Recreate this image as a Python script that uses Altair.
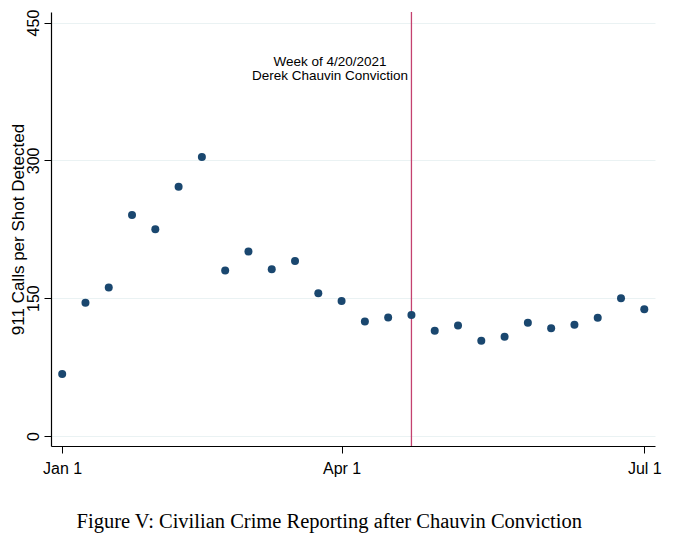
import altair as alt
import pandas as pd

# Weekly observations (week index 0 = week of Jan 1, 2021)
weeks = list(range(26))
calls = [67.4, 144.9, 161.5, 240.5, 225.0, 271.3, 303.6, 180.2, 200.7, 181.5,
         190.5, 155.4, 147.0, 124.6, 128.9, 131.8, 114.6, 120.2, 103.6, 107.9,
         123.2, 117.4, 121.0, 128.6, 150.0, 138.0]

tick_weeks = [0, 12, 25]
tick_labels = ["Jan 1", "Apr 1", "Jul 1"]
y_ticks = [0, 150, 300, 450]

event_week = [15]
ann_lines = ["Week of 4/20/2021", "Derek Chauvin Conviction"]
ann_x = [11.5, 11.5]
ann_y = [407.0, 391.5]

caption = ["Figure V: Civilian Crime Reporting after Chauvin Conviction"]

pts = pd.DataFrame({"week": weeks, "calls": calls})
ev = pd.DataFrame({"week": event_week})
ann = pd.DataFrame({"week": ann_x, "calls": ann_y, "txt": ann_lines})
cap = pd.DataFrame({"caption": caption})

label_expr = " : ".join(
    f"datum.value == {w} ? '{l}'" for w, l in zip(tick_weeks[:-1], tick_labels[:-1])
) + f" : '{tick_labels[-1]}'"

FONT = "Liberation Sans"

xscale = alt.Scale(domain=[-0.48, 25.46], nice=False, zero=False)
yscale = alt.Scale(domain=[-10.9, 461.5], nice=False, zero=False)

x_enc = alt.X(
    "week:Q", scale=xscale,
    axis=alt.Axis(values=tick_weeks, labelExpr=label_expr, grid=False, title=None,
                  domainColor="#000000", domainWidth=1.2, tickColor="#000000",
                  tickSize=7, tickWidth=1, labelFont=FONT, labelFontSize=16,
                  labelColor="#000000", labelPadding=7, labelFlush=False),
)
y_enc = alt.Y(
    "calls:Q", scale=yscale,
    axis=alt.Axis(values=y_ticks, grid=True, gridColor="#eaf2f3", gridWidth=1,
                  title="911 Calls per Shot Detected", titleFont=FONT,
                  titleFontSize=17, titleFontWeight="normal", titleColor="#000000",
                  titleAngle=-90, titleX=-33, titleY=217, titleAlign="center",
                  titleBaseline="middle",
                  domainColor="#000000", domainWidth=1.2, tickColor="#000000",
                  tickSize=7, tickWidth=1, labelFont=FONT, labelFontSize=16,
                  labelColor="#000000", labelAngle=-90, labelAlign="center",
                  labelBaseline="bottom", labelPadding=3, labelFlush=False),
)

points = alt.Chart(pts).mark_point(
    filled=True, size=64, color="#1a476f", opacity=1, strokeWidth=0
).encode(x=x_enc, y=y_enc)

rule = alt.Chart(ev).mark_rule(color="#c4416f", strokeWidth=1.3).encode(
    x=alt.X("week:Q", scale=xscale)
)

annot = alt.Chart(ann).mark_text(
    font=FONT, fontSize=13.5, color="#000000", align="center", baseline="middle"
).encode(
    x=alt.X("week:Q", scale=xscale),
    y=alt.Y("calls:Q", scale=yscale),
    text="txt:N",
)

capt = alt.Chart(cap).mark_text(
    font="Liberation Serif", fontSize=20.5, color="#000000", align="center",
    baseline="alphabetic"
).encode(
    x=alt.value(278.3), y=alt.value(516), text="caption:N"
)

chart = alt.layer(rule, points, annot, capt).properties(
    width=604, height=434,
    padding={"left": 43, "top": 4, "right": 10, "bottom": 100},
    autosize=alt.AutoSizeParams(type="none"),
    background="white",
).configure_view(stroke=None)

chart.save("out.html", embed_options={"renderer": "svg", "actions": False})
